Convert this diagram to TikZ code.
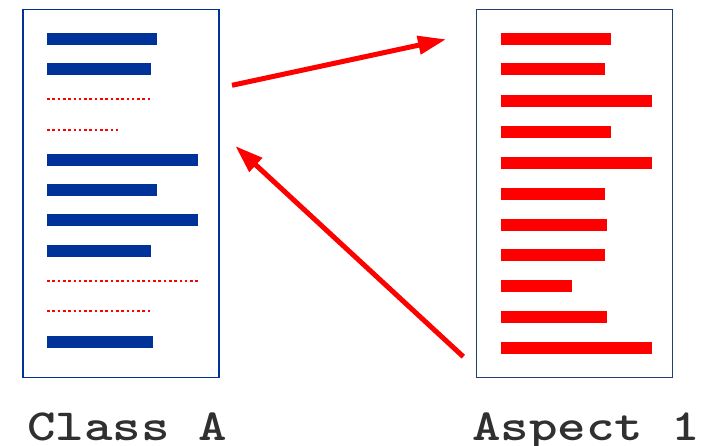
\documentclass[tikz,border=0pt]{standalone}
\usepackage{fontspec}
\newfontfamily\labelfont{lmmonolt10-bold.otf}[FakeStretch=1.22]
\usepackage{tikz}
\usetikzlibrary{arrows.meta}
\usetikzlibrary{positioning}

\definecolor{barblue}{HTML}{003399}
\definecolor{navy}{HTML}{1F3F6F}
\definecolor{labelgray}{HTML}{303030}

\tikzset{
  box/.style={draw, line width=1.5pt, inner sep=0pt, minimum width=196pt, minimum height=368pt},
  bar/.style={line width=11.5pt},
  dotbar/.style={red, line width=2.7pt, dash pattern=on 2.65pt off 2.65pt},
  link/.style={red, line width=5pt, -{Triangle[length=28pt, width=18pt]}},
  title/.style={font=\fontsize{44.5}{50}\labelfont, text=labelgray, inner sep=0pt, anchor=base west}
}

\begin{document}
\begin{tikzpicture}[x=1pt, y=-1pt]
    \useasboundingbox (0,0) rectangle (714,446);

    \node (classA) [box, draw=barblue] at (121,193.3) {};
    \node (aspect) [box, draw=navy] at (574.7,193.3) {};

    % solid and dotted lines of the class
    \foreach \y/\len in {39/157, 69/151, 160/198, 190/157, 220/198, 251/151, 342/153}
      \draw [bar, barblue] (47,\y) -- (\len,\y);
    \foreach \y/\len in {99/151, 130/118, 281/198, 311/151}
      \draw [dotbar] (47,\y) -- (\len,\y);

    % lines of the aspect
    \foreach \y/\len in {39/611, 69/605, 101/652, 132/611, 163/652, 194/605,
                         225/607, 255/605, 286/572, 317/607, 348/652}
      \draw [bar, red] (500.7,\y) -- (\len,\y);

    \node (classlbl) [title] at (27,440) {Class A};
    \node (aspectlbl) [title] at (472,440) {Aspect 1};

    \coordinate (outA) at (232,85.3);
    \coordinate (inB) at (446,39.3);
    \coordinate (outB) at (463.3,356.7);
    \coordinate (inA) at (235.3,146);

    \draw [link] (outA) -- (inB);
    \draw [link] (outB) -- (inA);
\end{tikzpicture}
\end{document}
